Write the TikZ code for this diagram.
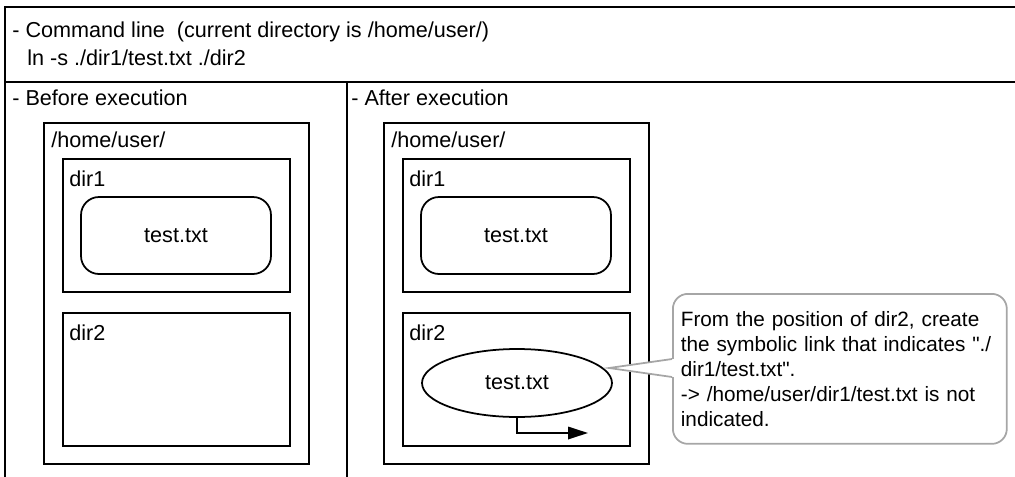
\documentclass[tikz,border=0pt]{standalone}
\usepackage{fontspec}
\newfontfamily\lsans{Liberation Sans}
\usepackage{tikz}
\usetikzlibrary{positioning,arrows.meta,calc,shapes.geometric}

\begin{document}
\begin{tikzpicture}[x=0.02cm, y=-0.02cm, >={Triangle[length=0.4cm, width=0.25cm]},
    every node/.style={font=\lsans\fontsize{12.3}{14.2}\selectfont, inner sep=0pt},
    frame/.style={line width=1pt},
    lbl/.style={anchor=base west},
    homebox/.style={draw, line width=1pt, anchor=north west, minimum width=5.3cm, minimum height=6.82cm},
    dirbox/.style={draw, line width=1pt, anchor=north west, minimum width=4.54cm, minimum height=2.66cm},
    filebox/.style={draw, line width=1pt, rounded corners=0.36cm, minimum width=3.8cm, minimum height=1.54cm},
    linkbox/.style={draw, line width=1pt, ellipse, minimum width=3.8cm, minimum height=1.36cm},
    notebox/.style={draw=black!35, line width=1pt, rounded corners=0.3cm, anchor=north west,
        font=\lsans\fontsize{11.8}{14.2}\selectfont,
        text width=6.36cm, inner xsep=0.16cm, minimum height=3cm, align=left}]
  \useasboundingbox (0,0) rectangle (1015,477);
  % frame
  \draw[frame] (1015,7) -- (5,7) -- (5,477);
  \draw[frame] (5,82) -- (1015,82);
  \draw[frame] (347,82) -- (347,477);
  \node[lbl] (cmd) at (12,37) {- Command line~~(current directory is /home/user/)};
  \node[lbl] (lncmd) at (27,65) {ln -s ./dir1/test.txt ./dir2};
  \node[lbl] (before) at (12,105) {- Before execution};
  \node[lbl] (after) at (351,105) {- After execution};
  % before execution
  \node[homebox] (homeL) at (43,122) {};
  \node[dirbox] (dir1L) at (62,158) {};
  \node[dirbox] (dir2L) at (62,312) {};
  \node[filebox] (fileL) at (176,235.5) {test.txt};
  \node[lbl] (homeLt) at ($(homeL.north west)+(8,25)$) {/home/user/};
  \node[lbl] (dir1Lt) at ($(dir1L.north west)+(7,28)$) {dir1};
  \node[lbl] (dir2Lt) at ($(dir2L.north west)+(7,28)$) {dir2};
  % after execution
  \node[homebox] (homeR) at (383,122) {};
  \node[dirbox] (dir1R) at (402,158) {};
  \node[dirbox] (dir2R) at (402,312) {};
  \node[filebox] (fileR) at (516,235.5) {test.txt};
  \node[linkbox] (link) at (517,383) {test.txt};
  \node[lbl] (homeRt) at ($(homeR.north west)+(8,25)$) {/home/user/};
  \node[lbl] (dir1Rt) at ($(dir1R.north west)+(7,28)$) {dir1};
  \node[lbl] (dir2Rt) at ($(dir2R.north west)+(7,28)$) {dir2};
  \coordinate (linkend) at (588,433);
  \draw[->, line width=1pt] (link.south) |- (linkend);
  % note
  \node[notebox] (note) at (672,293)
      {From the position of dir2, create\\
       the symbolic link that indicates "./\\
       dir1/test.txt".\\
       -> /home/user/dir1/test.txt is not\\
       indicated.};
  \coordinate (tip) at (609,368);
  \fill[white] ($(note.north west)+(2,66)$) -- (tip) -- ($(note.north west)+(2,84)$) -- cycle;
  \draw[black!35, line width=1pt] ($(note.north west)+(0,66)$) -- (tip) -- ($(note.north west)+(0,84)$);
\end{tikzpicture}
\end{document}
